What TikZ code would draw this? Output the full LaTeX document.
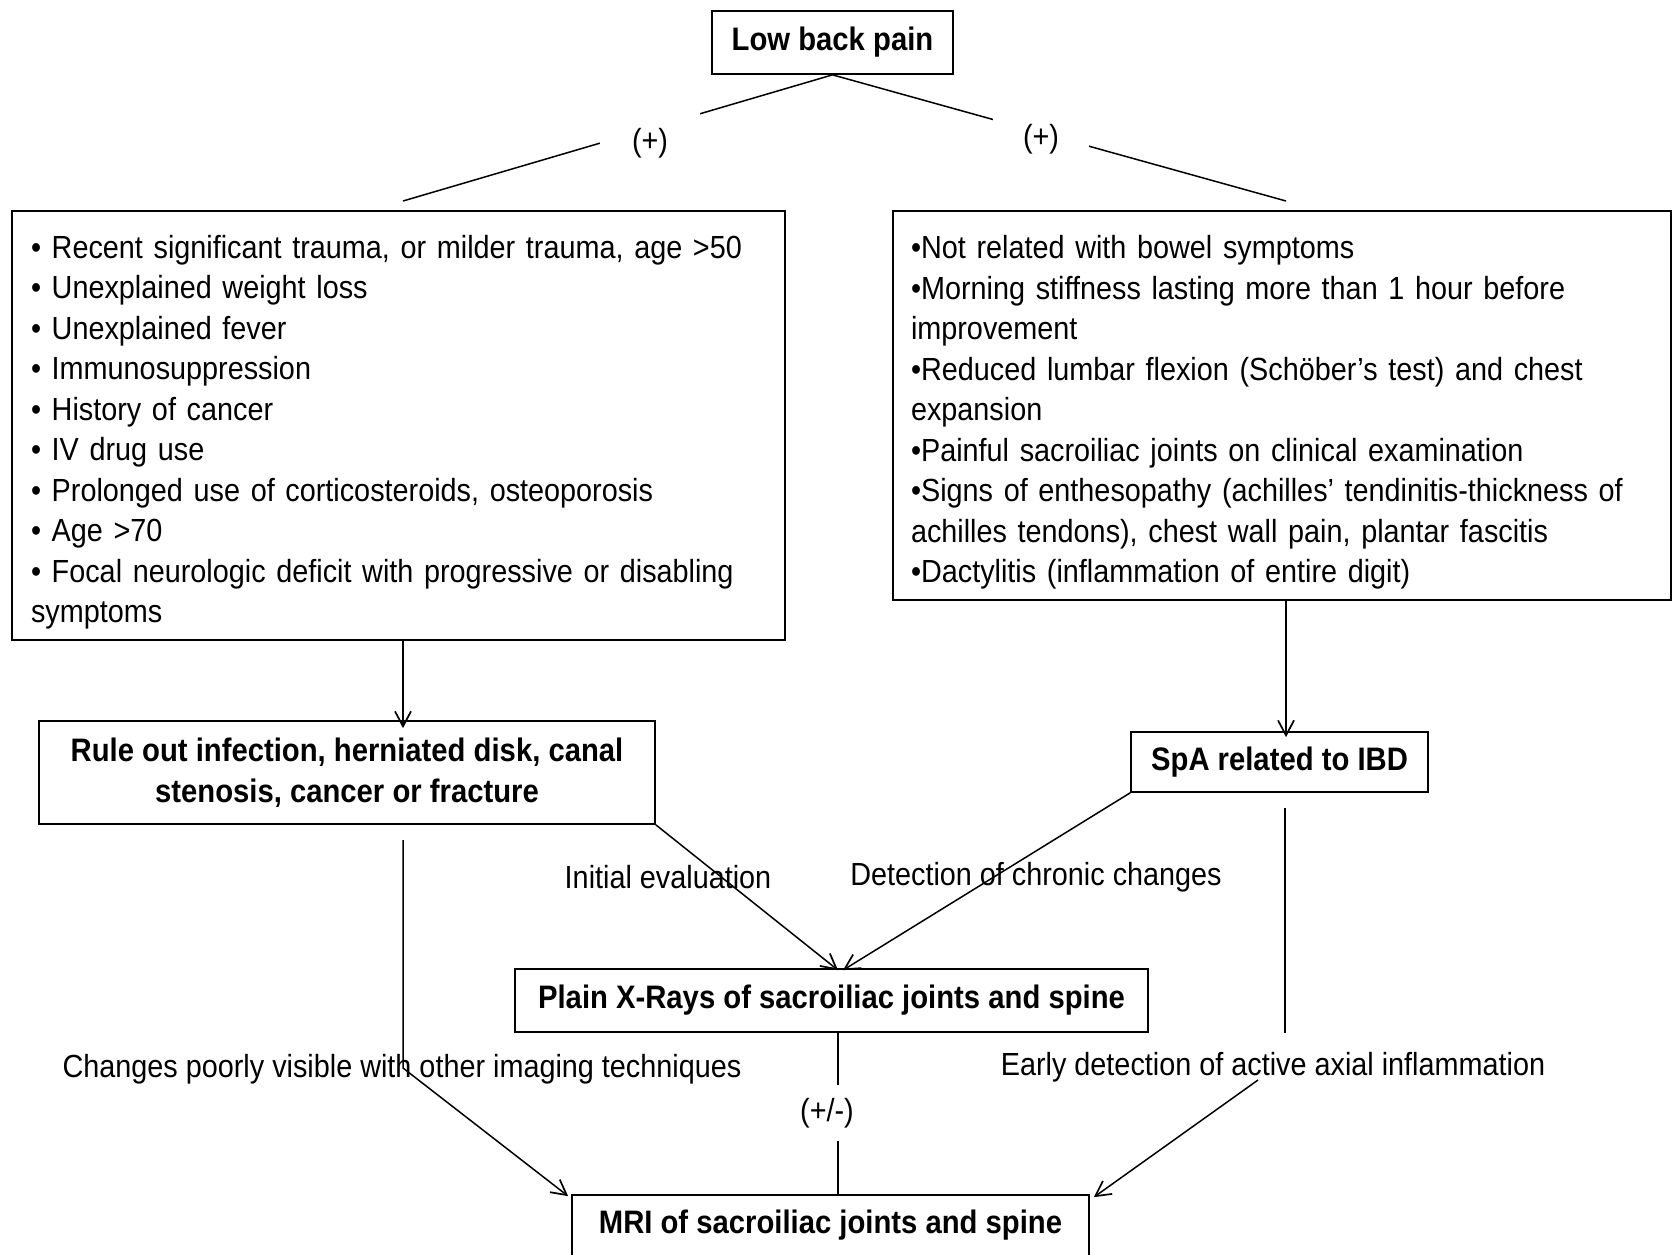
\documentclass[tikz,border=0pt]{standalone}
\usepackage{fontspec}
\setmainfont{Liberation Sans}[FakeStretch=0.9]
\usetikzlibrary{arrows.meta}
\newcommand{\topstrut}{\rule{0pt}{37pt}}
\begin{document}
\begin{tikzpicture}[x=1pt,y=-1pt,
  txt/.style={font=\fontsize{32pt}{40.5pt}\selectfont},
  box/.style={draw=black, line width=1.7pt, fill=white, inner sep=0pt, txt},
  bbox/.style={box, font=\fontsize{32.5pt}{40.5pt}\selectfont\bfseries, align=center},
  conn/.style={line width=1.5pt},
  arr/.style={conn, -{Straight Barb[length=15pt,width=16pt,line width=1.7pt]}},
  lab/.style={txt, inner sep=0pt},
  gaplab/.style={txt, fill=white, inner sep=0pt}]
\useasboundingbox (0,0) rectangle (1673,1254);

% boxes
\node[bbox, minimum width=241pt, minimum height=63pt] (lbp) at (832.5,42.5) {Low back pain};

\node[box, text width=735pt, inner xsep=19pt, minimum height=429pt, align=left] (crit) at (398.5,425.5)
{\topstrut• Recent significant trauma, or milder trauma, age >50\\
• Unexplained weight loss\\
• Unexplained fever\\
• Immunosuppression\\
• History of cancer\\
• IV drug use\\
• Prolonged use of corticosteroids, osteoporosis\\
• Age >70\\
• Focal neurologic deficit with progressive or disabling\\
symptoms};

\node[box, text width=742pt, inner xsep=18pt, minimum height=389pt, align=left] (spcrit) at (1282,405.5)
{\topstrut•Not related with bowel symptoms\\
•Morning stiffness lasting more than 1 hour before\\
improvement\\
•Reduced lumbar flexion (Schöber’s test) and chest\\
expansion\\
•Painful sacroiliac joints on clinical examination\\
•Signs of enthesopathy (achilles’ tendinitis-thickness of\\
achilles tendons), chest wall pain, plantar fascitis\\
•Dactylitis (inflammation of entire digit)};

\node[bbox, minimum width=616pt, minimum height=103pt] (rule) at (347,772.5)
{Rule out infection, herniated disk, canal\\stenosis, cancer or fracture};
\node[bbox, minimum width=297pt, minimum height=60pt] (spa) at (1279.5,762) {SpA related to IBD};
\node[bbox, minimum width=633pt, minimum height=63pt] (xray) at (831.5,1000.5) {Plain X-Rays of sacroiliac joints and spine};
\node[bbox, minimum width=517pt, minimum height=61pt] (mri) at (830.5,1225.5) {MRI of sacroiliac joints and spine};

% free ends
\coordinate (cl) at (403,201);
\coordinate (cr) at (1286,201);
\coordinate (lv1) at (403,840);
\coordinate (lv2) at (403,1068);
\coordinate (rv1) at (1285,808);
\coordinate (rv2) at (1285,1033);
\coordinate (ra) at (1258,1080);

% connectors
\draw[conn] (lbp.south) -- (cl);
\draw[conn] (lbp.south) -- (cr);
\node[gaplab, minimum width=100pt, minimum height=66pt] (pl) at (650,143) {(+)};
\node[gaplab, minimum width=96pt, minimum height=46pt] (pr) at (1041,139) {(+)};

\draw[arr] ([xshift=4.5pt]crit.south) -- ([xshift=56pt,yshift=-8pt]rule.north);
\draw[arr] ([xshift=4pt]spcrit.south) -- ([xshift=6.5pt,yshift=-6pt]spa.north);

\draw[arr] (rule.south east) -- ([xshift=6.5pt,yshift=-2pt]xray.north);
\draw[arr] (spa.south west) -- ([xshift=11.5pt,yshift=-2pt]xray.north);
\node[lab] (ie) at (668,877) {Initial evaluation};
\node[lab] (dc) at (1036,877) {Detection of chronic changes};

\draw[arr] (lv1) -- (lv2) -- ([xshift=-3pt,yshift=-2pt]mri.north west);
\node[lab] (cp) at (402,1069) {Changes poorly visible with other imaging techniques};

\draw[conn] (rv1) -- (rv2);
\draw[arr] (ra) -- ([xshift=4pt,yshift=-3pt]mri.north east);
\node[lab] (ed) at (1273,1067) {Early detection of active axial inflammation};

\draw[conn] ([xshift=6.5pt]xray.south) -- ([xshift=7.5pt]mri.north);
\node[gaplab, minimum width=50pt, minimum height=56pt] (pm) at (827,1113) {(+/-)};
\end{tikzpicture}
\end{document}
